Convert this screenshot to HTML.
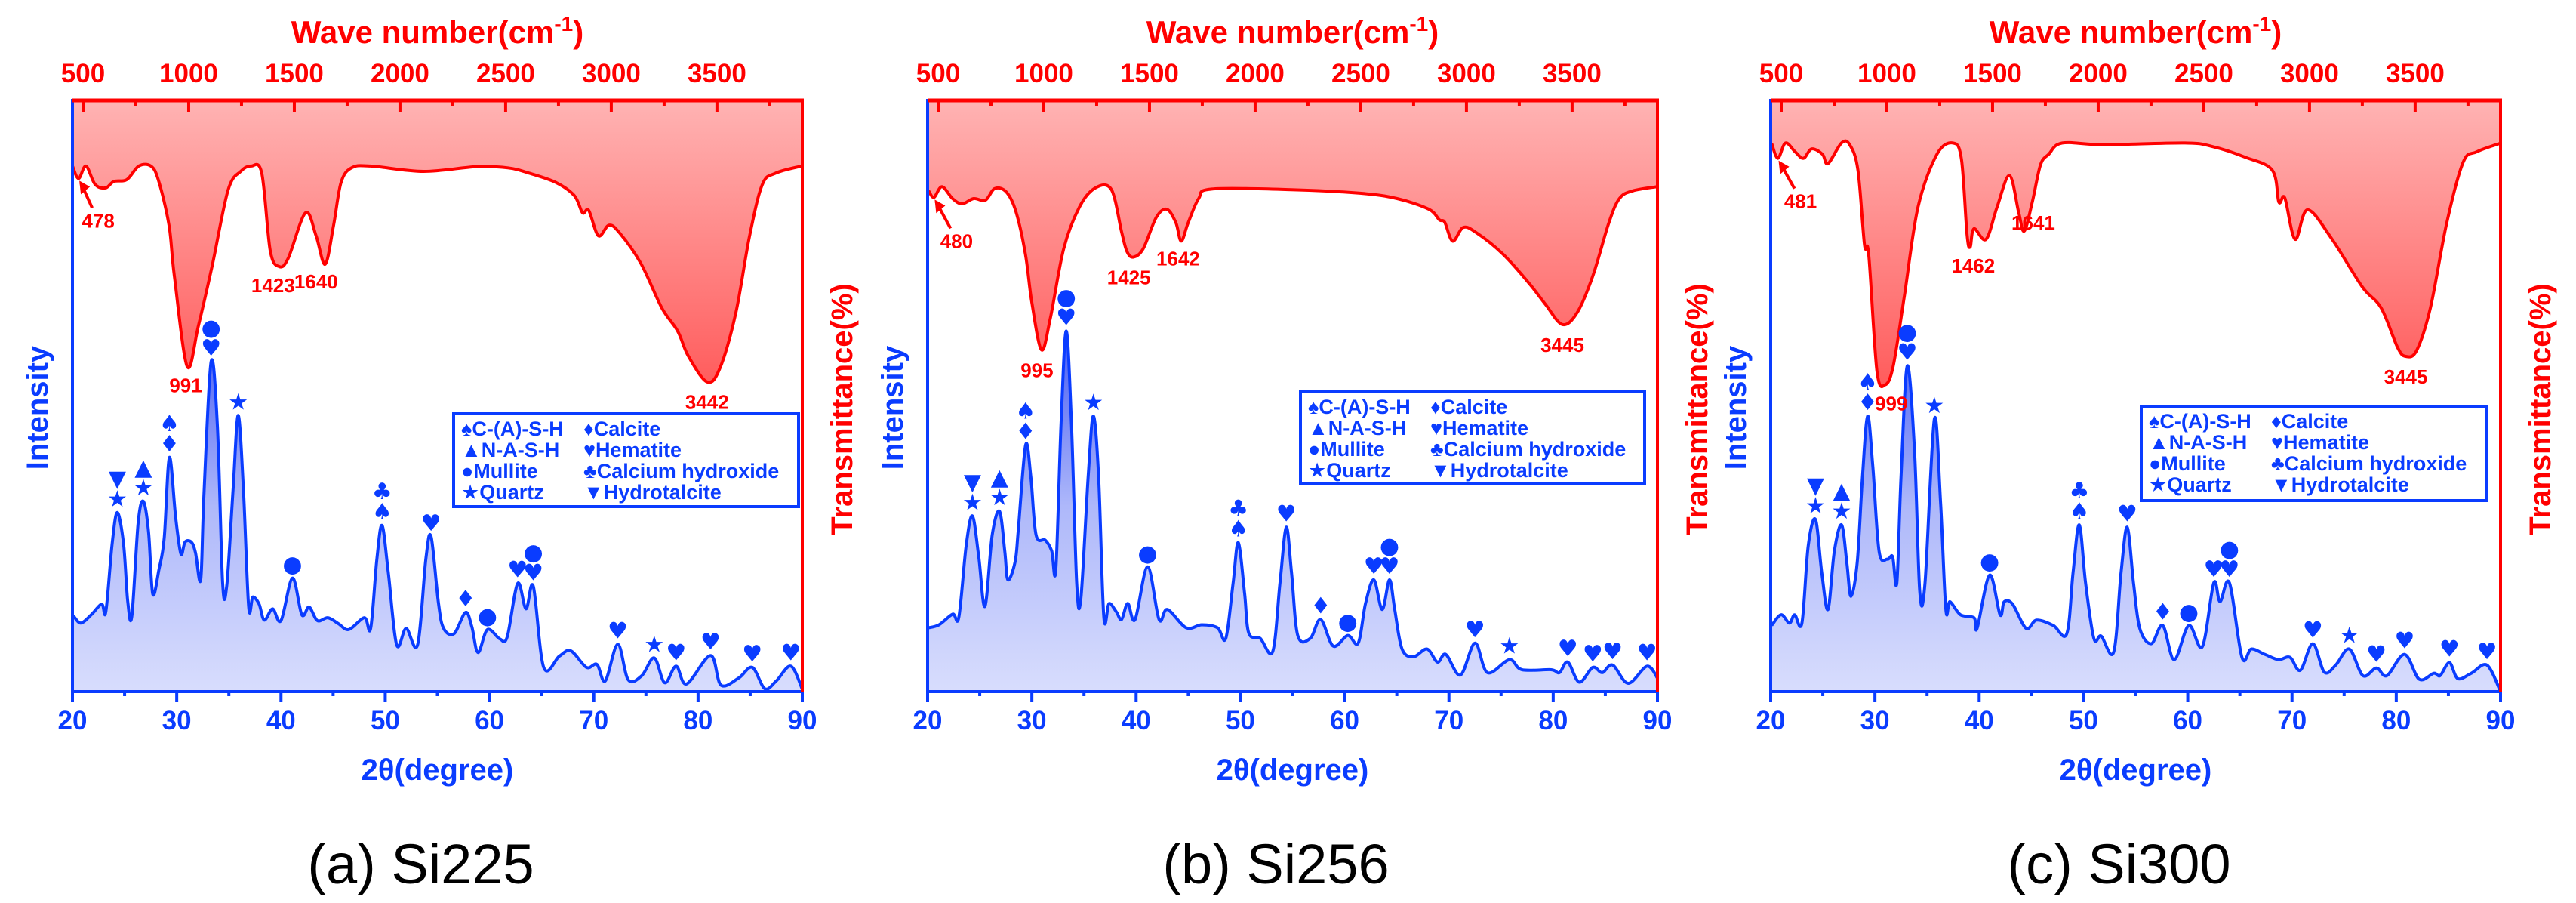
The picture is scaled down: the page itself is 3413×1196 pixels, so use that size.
<!DOCTYPE html>
<html><head><meta charset="utf-8"><style>
html,body{margin:0;padding:0;background:#fff;}
svg{display:block;}
text{font-family:"Liberation Sans","DejaVu Sans",sans-serif;}
</style></head><body>
<svg id="chart" width="3413" height="1196" viewBox="0 0 3413 1196" xmlns="http://www.w3.org/2000/svg">
<defs>
<linearGradient id="redGrad" gradientUnits="userSpaceOnUse" x1="0" y1="133" x2="0" y2="520"><stop offset="0" stop-color="#ffb3b3"/><stop offset="1" stop-color="#ff5a5a"/></linearGradient>
<linearGradient id="blueGrad" gradientUnits="userSpaceOnUse" x1="0" y1="470" x2="0" y2="916"><stop offset="0" stop-color="#5468f4"/><stop offset="0.45" stop-color="#aeb8fa"/><stop offset="1" stop-color="#d8ddfd"/></linearGradient>
</defs>
<g id="root"></g>
</svg>
<script>
// ---------- data: panel (a) Si225 ----------
const ftirA_wn=[450,479,514,557,607,646,707,764,821,857,907,932,993,1046,1111,1186,1246,1296,1346,1386,1428,1471,1553,1603,1646,1686,1721,1771,1861,2111,2361,2511,2611,2739,2825,2864,2893,2939,2989,3039,3139,3239,3314,3364,3453,3514,3589,3653,3714,3778,3900];
const ftirA_T=[88.9,86.8,88.9,85.8,85.2,86.3,86.6,88.9,88.9,86.5,78.9,70.4,55.0,61.9,72.0,84.8,88.0,88.9,87.7,74.6,71.9,73.3,81.0,77.1,72.3,78.9,86.1,88.6,88.9,88.0,88.8,88.6,87.7,86.1,83.9,81.0,81.4,77.1,78.9,77.6,72.5,64.9,61.0,56.8,52.4,54.7,64.0,76.8,85.7,87.7,88.9];
const xrdA_theta=[20.1,20.8,21.8,22.8,23.2,23.8,24.3,24.9,25.3,25.7,26.3,26.8,27.3,27.7,28.3,28.8,29.3,29.9,30.4,30.8,31.4,31.8,32.3,32.6,33.3,33.9,34.4,34.8,35.4,35.9,36.4,36.9,37.3,37.9,38.4,39.2,40.0,41.1,42.0,42.7,43.5,44.5,45.5,46.5,48.0,48.6,49.2,49.7,50.3,51.1,52.0,53.1,53.9,54.4,55.1,55.6,56.6,57.7,58.3,58.9,59.8,61.0,61.7,62.7,63.5,64.2,65.2,66.7,67.8,69.3,70.3,71.1,72.3,73.3,74.6,75.8,76.8,77.9,78.9,81.2,82.2,83.9,85.2,86.4,87.5,88.9,90.0];
const xrdA_int=[12.8,11.6,13.0,14.8,13.5,24.9,30.3,25.0,15.3,12.8,28.5,32.2,27.0,16.5,20.7,26.0,39.6,29.4,23.3,25.3,25.3,23.5,18.9,33.0,55.8,45.0,18.5,18.0,34.0,46.7,34.0,14.3,16.0,14.8,12.1,14.0,12.0,19.2,13.0,14.3,12.0,12.5,11.5,10.5,12.5,10.7,22.5,28.1,20.0,7.9,10.7,7.9,22.5,26.2,15.0,10.7,9.8,13.4,11.0,6.6,10.5,8.9,9.3,18.3,14.0,17.8,4.1,6.0,6.9,4.1,4.6,1.8,8.0,2.0,2.7,5.7,1.5,4.3,1.3,6.1,1.1,2.3,4.1,0.5,1.8,4.3,0.4];
const markA_theta=[24.3,26.8,29.3,33.3,35.9,41.1,49.7,54.4,57.7,59.8,62.7,64.2,72.3,75.8,77.9,81.2,85.2,88.9];
const markA_sym=["▼★","▲★","♠♦","●♥","★","●","♣♠","♥","♦","●","♥","●♥","♥","★","♥","♥","♥","♥"];
const dipA_wn=[479,993,1428,1646,3453];
const dipA_T=[86.8,55.0,71.9,72.3,52.4];
const dipA_label=["478","991","1423","1640","3442"];
// ---------- data: panel (b) Si256 ----------
const ftirB_wn=[455,480,518,568,613,668,723,768,823,868,913,943,989,1031,1094,1169,1244,1320,1369,1394,1424,1470,1532,1582,1625,1650,1683,1733,1795,2171,2497,2672,2822,2872,2897,2935,2985,3048,3173,3298,3374,3454,3524,3599,3674,3724,3787,3900];
const ftirB_T=[84.7,83.6,85.4,83.4,82.5,83.4,83.1,85.1,84.5,81.2,74.0,65.9,57.8,63.2,74.9,82.0,85.2,84.9,77.6,74.4,73.5,74.9,80.2,81.6,79.3,76.2,79.3,83.4,85.0,84.9,84.3,83.4,81.6,79.8,79.4,76.2,78.5,77.6,74.0,69.0,65.5,62.1,64.1,70.4,79.3,83.4,84.7,85.4];
const xrdB_theta=[20.1,21.1,22.4,23.0,23.7,24.3,24.9,25.5,26.2,26.9,27.4,27.7,28.4,28.7,29.4,29.9,30.4,31.3,31.9,32.3,32.8,33.3,33.8,34.3,34.7,35.4,35.9,36.4,36.9,37.4,38.1,38.6,39.2,39.9,41.1,42.2,43.0,44.8,46.3,47.8,48.6,49.3,49.8,50.4,50.8,51.9,53.1,53.8,54.4,54.9,55.5,56.7,57.7,58.9,60.3,61.3,62.0,62.8,63.6,64.3,64.8,65.5,66.6,67.9,68.9,69.7,71.1,72.5,73.7,75.8,77.0,79.8,80.6,81.4,82.5,83.8,84.7,85.7,87.2,89.0,90.0];
const xrdB_int=[10.8,11.3,13.1,12.6,24.7,29.7,22.9,14.4,26.5,30.5,23.8,18.9,22.0,27.4,41.7,36.3,26.5,25.6,23.8,20.7,45.3,61.0,45.3,18.4,15.8,36.3,46.6,36.3,12.6,14.9,13.5,12.2,14.9,12.2,21.1,12.2,13.9,10.8,11.3,10.8,9.0,18.4,25.2,16.6,9.9,9.0,6.8,18.4,27.8,20.2,9.5,9.0,12.2,7.7,9.5,8.2,14.9,18.9,13.9,18.9,13.9,7.2,5.9,7.2,5.0,6.3,2.8,8.2,3.2,5.4,3.7,3.7,3.2,5.0,1.6,4.1,3.2,4.5,1.4,4.3,2.3];
const markB_theta=[24.3,26.9,29.4,33.3,35.9,41.1,49.8,54.4,57.7,60.3,62.8,64.3,72.5,75.8,81.4,83.8,85.7,89.0];
const markB_sym=["▼★","▲★","♠♦","●♥","★","●","♣♠","♥","♦","●","♥","●♥","♥","★","♥","♥","♥","♥"];
const dipB_wn=[480,989,1424,1650,3454];
const dipB_T=[83.6,57.8,73.5,76.2,62.1];
const dipB_label=["480","995","1425","1642","3445"];
// ---------- data: panel (c) Si300 ----------
const ftirC_wn=[455,484,520,566,605,644,695,721,785,824,863,894,914,953,992,1030,1082,1147,1237,1314,1353,1379,1394,1412,1469,1521,1580,1624,1650,1688,1727,1766,1830,2024,2411,2540,2695,2824,2855,2883,2932,2991,3107,3249,3339,3417,3456,3507,3572,3649,3727,3791,3907];
const ftirC_T=[92.7,90.2,92.8,91.3,90.2,91.8,90.9,89.3,92.8,92.5,88.2,75.6,73.9,54.2,51.9,55.1,66.7,81.9,90.9,92.8,90.0,77.4,75.2,78.3,76.5,81.9,87.3,81.0,77.9,82.8,89.1,90.9,92.8,92.5,92.8,92.2,90.4,88.2,82.8,83.5,76.5,81.5,76.5,68.5,64.9,58.2,56.7,57.7,64.9,79.2,89.5,91.3,92.8];
const xrdC_theta=[20.1,21.0,21.8,22.3,23.0,23.6,24.3,24.9,25.5,26.1,26.8,27.3,27.7,28.3,28.8,29.3,29.8,30.4,31.2,31.7,32.1,32.5,33.1,33.8,34.3,34.8,35.7,36.3,36.8,37.2,38.2,39.5,39.8,41.0,42.0,42.4,43.2,44.5,45.5,47.1,48.4,49.0,49.6,50.2,51.0,51.7,52.9,53.6,54.2,54.8,55.4,56.5,57.6,58.7,60.1,61.4,62.5,63.1,64.0,65.2,66.1,67.4,68.7,69.8,70.8,72.0,73.1,74.2,75.5,76.8,78.1,79.1,80.8,82.2,83.6,84.2,85.1,85.9,87.2,88.7,90.0];
const xrdC_int=[11.2,13.0,11.6,13.0,11.6,24.6,29.1,20.1,13.9,23.7,28.2,21.9,16.1,21.9,36.3,46.6,38.0,23.7,22.4,22.8,18.4,36.3,55.1,40.7,17.0,18.4,46.1,31.8,13.9,15.2,13.0,12.5,10.7,19.7,13.0,15.2,14.8,10.7,12.1,11.2,9.8,20.1,28.2,18.4,9.0,9.4,6.7,20.1,27.8,18.4,10.7,8.1,11.2,5.4,11.2,7.6,18.4,15.2,18.4,5.8,7.2,6.3,5.4,5.8,3.6,8.1,3.3,4.5,7.2,2.7,4.0,2.7,6.3,2.1,3.1,2.7,4.9,2.2,3.1,4.5,0.0];
const markC_theta=[24.3,26.8,29.3,33.1,35.7,41.0,49.6,54.2,57.6,60.1,62.5,64.0,72.0,75.5,78.1,80.8,85.1,88.7];
const markC_sym=["▼★","▲★","♠♦","●♥","★","●","♣♠","♥","♦","●","♥","●♥","♥","★","♥","♥","♥","♥"];
const dipC_wn=[484,992,1394,1650,3456];
const dipC_T=[90.2,51.9,75.2,77.9,56.7];
const dipC_label=["481","999","1462","1641","3445"];
// ---------- shared axis tick labels ----------
const xrdTicks=[20,30,40,50,60,70,80,90];
const ftirTicks=[500,1000,1500,2000,2500,3000,3500];
const captions=["(a) Si225","(b) Si256","(c) Si300"];
const legendLeft=["♠C-(A)-S-H","▲N-A-S-H","●Mullite","★Quartz"];
const legendRight=["♦Calcite","♥Hematite","♣Calcium hydroxide","▼Hydrotalcite"];

// ---------- layout (not data) ----------
const BLUE="#0a3cff", RED="#ff0000";
const TOP=133, BOT=916, W=967;
const panels=[
 {L:96, fw:ftirA_wn, fT:ftirA_T, xt:xrdA_theta, xi:xrdA_int, mt:markA_theta, ms:markA_sym, dw:dipA_wn, dT:dipA_T, dl:dipA_label, leg:[505,548,457,123], lab:[[26,53],[-2,22],[-8,22],[-12,20],[0,24]]},
 {L:1229, fw:ftirB_wn, fT:ftirB_T, xt:xrdB_theta, xi:xrdB_int, mt:markB_theta, ms:markB_sym, dw:dipB_wn, dT:dipB_T, dl:dipB_label, leg:[494,519,456,121], lab:[[30,55],[-6,24],[-6,24],[-4,20],[0,24]]},
 {L:2346, fw:ftirC_wn, fT:ftirC_T, xt:xrdC_theta, xi:xrdC_int, mt:markC_theta, ms:markC_sym, dw:dipC_wn, dT:dipC_T, dl:dipC_label, leg:[491,538,458,125], lab:[[30,54],[8,22],[4,22],[12,-14],[0,24]]}
];
const NS="http://www.w3.org/2000/svg";
const root=document.getElementById('root');
function mk(tag,attrs,parent,txt){const e=document.createElementNS(NS,tag);for(const k in attrs)e.setAttribute(k,attrs[k]);if(txt!==undefined)e.textContent=txt;(parent||root).appendChild(e);return e;}
function interp(xs,ys,x){for(let i=0;i<xs.length-1;i++){if(x>=xs[i]&&x<=xs[i+1]){const t=(x-xs[i])/(xs[i+1]-xs[i]);return ys[i]+t*(ys[i+1]-ys[i]);}}return ys[ys.length-1];}
function maxNear(xs,ys,x){let m=-1;for(let i=0;i<xs.length;i++){if(Math.abs(xs[i]-x)<=0.45&&ys[i]>m)m=ys[i];}return Math.max(m,interp(xs,ys,x));}
function smooth(pts){
 let d='M'+pts[0][0].toFixed(1)+' '+pts[0][1].toFixed(1);
 for(let i=0;i<pts.length-1;i++){
  const p0=pts[Math.max(0,i-1)],p1=pts[i],p2=pts[i+1],p3=pts[Math.min(pts.length-1,i+2)];
  const c1x=p1[0]+(p2[0]-p0[0])/6,c1y=p1[1]+(p2[1]-p0[1])/6;
  const c2x=p2[0]-(p3[0]-p1[0])/6,c2y=p2[1]-(p3[1]-p1[1])/6;
  d+=' C'+c1x.toFixed(1)+' '+c1y.toFixed(1)+' '+c2x.toFixed(1)+' '+c2y.toFixed(1)+' '+p2[0].toFixed(1)+' '+p2[1].toFixed(1);
 }
 return d;
}

panels.forEach((p,pi)=>{
 const L=p.L,R=L+W;
 const xT=t=>L+(t-20)/70*W;
 const xW=w=>L+(w-450)/(3904-450)*W;
 const yI=v=>BOT-v*7.83;
 const yT=v=>TOP+(100-v)*7.83;
 const g=mk('g',{});
 
 
 // XRD fill + line
 const xp=p.xt.map((t,i)=>[xT(t),yI(p.xi[i])]);
 const d=smooth(xp);
 const xf=mk('path',{d:d+' L'+R+' '+BOT+' L'+L+' '+BOT+' Z',fill:'url(#blueGrad)',stroke:'none'},g);
 
 
 const xl=mk('path',{d:d,fill:'none',stroke:BLUE,'stroke-width':4,'stroke-linejoin':'round'},g);
 
 
 // FTIR fill + line
 const fp=p.fw.map((w,i)=>[xW(w),yT(p.fT[i])]);
 const f=smooth(fp);
 const ff=mk('path',{d:f+' L'+R+' '+TOP+' L'+L+' '+TOP+' Z',fill:'url(#redGrad)',stroke:'none'},g);
 
 
 const fl=mk('path',{d:f,fill:'none',stroke:RED,'stroke-width':4,'stroke-linejoin':'round'},g);
 
 
 // axes
 const la=mk('line',{x1:L,y1:TOP-2,x2:L,y2:BOT+2,stroke:BLUE,'stroke-width':4},g);
 
 
 const ba=mk('line',{x1:L,y1:BOT,x2:R,y2:BOT,stroke:BLUE,'stroke-width':4},g);
 
 
 const ta=mk('line',{x1:L,y1:TOP,x2:R+2,y2:TOP,stroke:RED,'stroke-width':5},g);
 
 
 const ra=mk('line',{x1:R,y1:TOP,x2:R,y2:BOT+2,stroke:RED,'stroke-width':4},g);
 
 
 for(let t=20;t<=90;t+=5){const maj=(t%10===0);mk('line',{x1:xT(t),y1:BOT,x2:xT(t),y2:BOT+(maj?14:6),stroke:BLUE,'stroke-width':4},g);}
 xrdTicks.forEach(t=>{const e=mk('text',{x:xT(t),y:BOT+50,'text-anchor':'middle','font-size':35,'font-weight':'bold',fill:BLUE},g,String(t));
  
  });
 for(let w=500;w<=3750;w+=250){const maj=(w%500===0);mk('line',{x1:xW(w),y1:TOP,x2:xW(w),y2:TOP+(maj?15:8),stroke:RED,'stroke-width':4},g);}
 ftirTicks.forEach(w=>{const e=mk('text',{x:xW(w),y:TOP-24,'text-anchor':'middle','font-size':35,'font-weight':'bold',fill:RED},g,String(w));
  
  });
 const cx=L+W/2;
 const t1=mk('text',{x:cx,y:57,'text-anchor':'middle','font-size':42,'font-weight':'bold',fill:RED},g);
 
 
 t1.appendChild(document.createTextNode('Wave number(cm'));
 mk('tspan',{dy:-16,'font-size':28},t1,'-1');
 mk('tspan',{dy:16},t1,')');
 const t2=mk('text',{x:cx,y:1033,'text-anchor':'middle','font-size':40,'font-weight':'bold',fill:BLUE},g,'2θ(degree)');
 
 
 const t3=mk('text',{x:0,y:0,'text-anchor':'middle','font-size':40,'font-weight':'bold',fill:BLUE,transform:'translate('+(L-33)+',540) rotate(-90)'},g,'Intensity');
 
 
 const t4=mk('text',{x:0,y:0,'text-anchor':'middle','font-size':40,'font-weight':'bold',fill:RED,transform:'translate('+(R+66)+',542) rotate(-90)'},g,'Transmittance(%)');
 
 
 const cap=mk('text',{x:cx-22,y:1170,'text-anchor':'middle','font-size':74,fill:'#000'},g,captions[pi]);
 
 
 p.mt.forEach((t,i)=>{
  const v=maxNear(p.xt,p.xi,t); const syms=[...p.ms[i]];
  syms.forEach((s,k)=>{
   const yy=yI(v)-8-(syms.length-1-k)*27;
   const e=mk('text',{x:xT(t),y:yy,'text-anchor':'middle','font-size':30,fill:BLUE,style:'font-family:"DejaVu Sans",sans-serif'},g,s);
   
   
  });
 });
 p.dw.forEach((w,i)=>{
  const dx=p.lab[i][0], dy=p.lab[i][1];
  const px=xW(w), py=yT(p.dT[i]);
  const e=mk('text',{x:px+dx,y:py+dy+12,'text-anchor':'middle','font-size':26,'font-weight':'bold',fill:RED},g,p.dl[i]);
  
  
  if(i===0){
   const a=mk('line',{x1:px+dx-8,y1:py+dy-14,x2:px+3,y2:py+6,stroke:RED,'stroke-width':4},g);
   
   
   mk('path',{d:'M'+(px+1)+' '+(py+3)+' l2 18 l12 -10 Z',fill:RED},g);
  }
 });
 const lg=p.leg;
 const lgx=L+lg[0], lgy=lg[1];
 const box=mk('rect',{x:lgx,y:lgy,width:lg[2],height:lg[3],fill:'#fff',stroke:BLUE,'stroke-width':4},g);
 
 
 legendLeft.forEach((s,k)=>{const e=mk('text',{x:lgx+10,y:lgy+29+k*28,'font-size':27,'font-weight':'bold',fill:BLUE},g,s);
  
  });
 legendRight.forEach((s,k)=>{const e=mk('text',{x:lgx+172,y:lgy+29+k*28,'font-size':27,'font-weight':'bold',fill:BLUE},g,s);
  
  });
});
</script>
</body></html>
